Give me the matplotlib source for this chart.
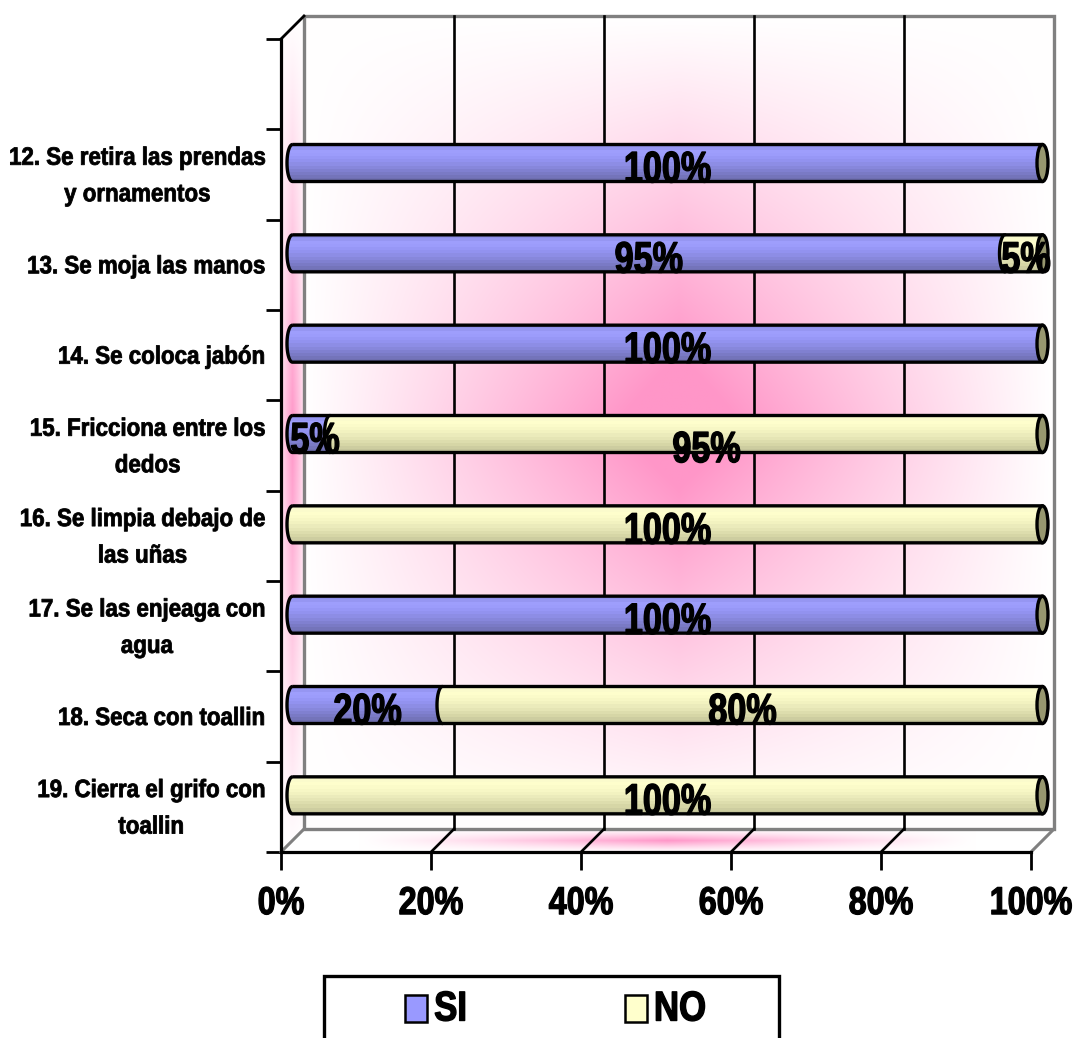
import numpy as np
import matplotlib
matplotlib.use("Agg")
import matplotlib.pyplot as plt
from matplotlib.colors import LinearSegmentedColormap
from matplotlib.patches import PathPatch, Ellipse, Polygon, Rectangle, Patch
from matplotlib.path import Path
from matplotlib.transforms import Affine2D
import matplotlib.patheffects as pe

categories = ["", "12. Se retira las prendas\ny ornamentos", "13. Se moja las manos",
              "14. Se coloca jabón", "15. Fricciona entre los\ndedos",
              "16. Se limpia debajo de\nlas uñas", "17. Se las enjeaga con\nagua",
              "18. Seca con toallin", "19. Cierra el grifo con\ntoallin"]
si_values = [0, 100, 95, 100, 5, 0, 100, 20, 0]
no_values = [0, 0, 5, 0, 95, 100, 0, 80, 100]
x_ticks = [0, 20, 40, 60, 80, 100]

W, H = 1076, 1038
plt.rcParams["font.family"] = ["Liberation Sans", "DejaVu Sans"]
plt.rcParams["font.weight"] = "bold"


class Heavy(pe.AbstractPathEffect):
    """Tight, heavy lettering: squeeze about an anchor, stretch from the baseline, thicken."""

    def __init__(self, anchor=None, sx=1.0, sy=1.0, lw=0.8, down=0.0):
        super().__init__()
        self.anchor, self.sx, self.sy, self.lw, self.down = anchor, sx, sy, lw, down

    def draw_path(self, renderer, gc, tpath, affine, rgbFace=None):
        affine = Affine2D().scale(1, self.sy) + affine + Affine2D().translate(0, -self.down)
        if self.anchor is not None and self.sx != 1.0:
            a = self.anchor() if callable(self.anchor) else self.anchor
            affine = affine + Affine2D().translate(-a, 0).scale(self.sx, 1).translate(a, 0)
        g = renderer.new_gc()
        g.copy_properties(gc)
        g.set_linewidth(self.lw)
        g.set_foreground("black")
        renderer.draw_path(g, tpath, affine, rgbFace)
        g.restore()


fig = plt.figure(figsize=(W / 100, H / 100), dpi=100, facecolor="white")
ax = fig.add_axes([281 / W, 1 - 852 / H, 750 / W, 813 / H])
ax.set_xlim(0, 100)
ax.set_ylim(9, 0)
ax.patch.set_visible(False)
for s in ("top", "right"):
    ax.spines[s].set_visible(False)
for s in ("left", "bottom"):
    ax.spines[s].set_linewidth(2.3)
    ax.spines[s].set_zorder(6)

PX, PY = 100 / 750, 9 / 813
dx, dy = 23 * PX, 23 * PY
PINK = np.array([255, 150, 200]) / 255
WHITE = np.ones(3)


def rgb(t):
    return WHITE + (PINK - WHITE) * np.clip(t, 0, 1)[..., None]


def image(arr, extent, clip_verts=None, z=1):
    im = ax.imshow(arr, extent=extent, origin="upper", aspect="auto", zorder=z, interpolation="bilinear")
    if clip_verts is not None:
        im.set_clip_path(Polygon(clip_verts, closed=True, transform=ax.transData))
    im.set_clip_box(fig.bbox)
    return im


# back wall
u = np.linspace(-1, 1, 301)
v = np.linspace(-1, 1, 301)
U, V = np.meshgrid(u, v)
t_back = 1.2 * ((1 - np.abs(U)) * (1 - np.abs(V))) ** 1.05
image(rgb(t_back), (dx, 100 + dx, 9 - dy, -dy), z=1)
# left wall
yy = (1 - np.abs(v))
xx = np.linspace(0, 1, 61)
t_left = np.outer(yy, 0.25 + 0.75 * (1 - np.abs(2 * xx - 1)) ** 0.8)
wall = [(0, 0), (dx, -dy), (dx, 9 - dy), (0, 9)]
image(rgb(t_left), (0, dx, 9, -dy), wall, z=1)
# floor
t_floor = np.outer(1 - np.abs(np.linspace(-1, 1, 41)), np.clip(1 - np.abs(u) * 1.25, 0, 1)) ** 1.1
floor = [(0, 9), (dx, 9 - dy), (100 + dx, 9 - dy), (100, 9)]
image(rgb(t_floor), (0, 100 + dx, 9, 9 - dy), floor, z=1)

# walls: outline and grid
GREY = "#808080"
ax.add_patch(Rectangle((dx, -dy), 100, 9, fill=False, ec=GREY, lw=2.4, zorder=2, clip_on=False))
ax.plot([0, dx], [9, 9 - dy], color=GREY, lw=2.2, zorder=2, clip_on=False)
ax.plot([100, 100 + dx], [9, 9 - dy], color=GREY, lw=2.2, zorder=2, clip_on=False)
ax.plot([0, dx], [0, -dy], color="black", lw=2.0, zorder=3, clip_on=False)
for x in x_ticks[1:-1]:
    ax.plot([x + dx, x + dx], [-dy, 9 - dy], color="black", lw=1.9, zorder=2, clip_on=False)
    ax.plot([x, x + dx], [9, 9 - dy], color="black", lw=1.9, zorder=2, clip_on=False)

# bars
SI_CMAP = LinearSegmentedColormap.from_list("si", ["#8f8fe8", "#a0a0ff", "#9696f5", "#8a8ae0", "#7c7cc8", "#6f6fb0"])
NO_CMAP = LinearSegmentedColormap.from_list("no", ["#f8f8cc", "#ffffcc", "#f6f6c4", "#e8e8b8", "#d8d8a8", "#c4c49a"])
grad = np.linspace(0, 1, 12)[:, None]
a, b = 5.5 * PX, 18.5 * PY
theta = np.linspace(0, np.pi, 40)


def cylinder(x0, x1, yc, cmap, z):
    xl, xr = x0 + dx / 2, x1 + dx / 2
    left = np.c_[xl - a * np.sin(theta), yc - b * np.cos(theta)]
    verts = np.vstack([left, [[xr, yc + b], [xr, yc - b]], left[:1]])
    im = ax.imshow(grad, cmap=cmap, extent=(xl - a, xr, yc + b, yc - b), aspect="auto", zorder=z, origin="upper")
    im.set_clip_box(fig.bbox)
    patch = PathPatch(Path(verts), fc="none", ec="black", lw=2.4, zorder=z + 0.1, clip_on=False, joinstyle="round")
    im.set_clip_path(Path(verts), ax.transData)
    ax.add_patch(patch)


for i, (si, no) in enumerate(zip(si_values, no_values)):
    if si + no == 0:
        continue
    yc = i + 0.5 - dy / 2
    z = 3 + i * 0.01
    if si:
        cylinder(0, si, yc, SI_CMAP, z)
    if no:
        cylinder(si, si + no, yc, NO_CMAP, z + 0.2)
    ax.add_patch(Ellipse((100 + dx / 2, yc), 2 * a, 2 * b, fc="#97976f", ec="black", lw=2.4, zorder=z + 0.4, clip_on=False))

# data labels
DATA_SIZE = 30
NO_SHIFT = [0, 0, 0.3, 0, 2.7, 0, 0, 0, 0]
NO_DROP = [0, 0, 0, 0, 0.1, 0, 0, 0, 0]
drop = 0.09


def label(x, y, s):
    t = ax.text(x, y, s, ha="center", va="center", fontsize=DATA_SIZE, color="black", zorder=8, clip_on=False)
    t.set_path_effects([Heavy(anchor=lambda: ax.transData.transform((x, 0))[0], sx=0.82, sy=1.05, lw=1.0)])


for i, (si, no) in enumerate(zip(si_values, no_values)):
    yc = i + 0.5 - dy / 2 + drop
    if si:
        label(si / 2 + dx / 2 + (0.5 if si == 5 else 0), yc, f"{si}%")
    if no:
        label(si + no / 2 + dx / 2 + NO_SHIFT[i], yc + NO_DROP[i], f"{no}%")

# axes ticks
ax.set_xticks(x_ticks)
ax.set_xticklabels([f"{x}%" for x in x_ticks], fontsize=25)
ax.tick_params(axis="x", length=13, width=2.0, pad=13, color="black")
ax.set_yticks(range(10))
ax.set_yticklabels([])
ax.tick_params(axis="y", which="major", length=11, width=2.0, color="black")
ax.set_yticks(np.arange(9) + 0.5, minor=True)
ax.set_yticklabels(categories, minor=True, fontsize=16.4, multialignment="center", linespacing=1.75, va="center")
ax.tick_params(axis="y", which="minor", length=0, pad=11.5)
for t in ax.get_xticklabels():
    xv = t.get_position()[0]
    t.set_path_effects([Heavy(anchor=(lambda v=xv: ax.transData.transform((v, 0))[0]), sx=0.93, sy=1.12, lw=0.9)])
for t in ax.get_yticklabels(minor=True):
    t.set_path_effects([Heavy(anchor=265.0, sx=0.98, sy=1.1, lw=0.6, down=2.0)])

# legend
fig.add_artist(Rectangle((324 / W, -0.02), 455 / W, 1 - 976 / H + 0.02, transform=fig.transFigure,
                         fc="white", ec="black", lw=2.4))
handles = [Patch(fc="#9999ff", ec="black", lw=1.8, label="SI"), Patch(fc="#ffffcc", ec="black", lw=1.8, label="NO")]
leg = fig.legend(handles=handles, loc="center left", bbox_to_anchor=(405 / W, 1 - 1011 / H), ncol=2, frameon=False,
                 fontsize=25, handlelength=0.64, handleheight=0.8, handletextpad=0.2, columnspacing=4.54,
                 borderpad=0, borderaxespad=0)
for t in leg.get_texts():
    t.set_path_effects([Heavy(sy=1.2, lw=1.0)])

fig.savefig("out.png", dpi=100, facecolor="white")
